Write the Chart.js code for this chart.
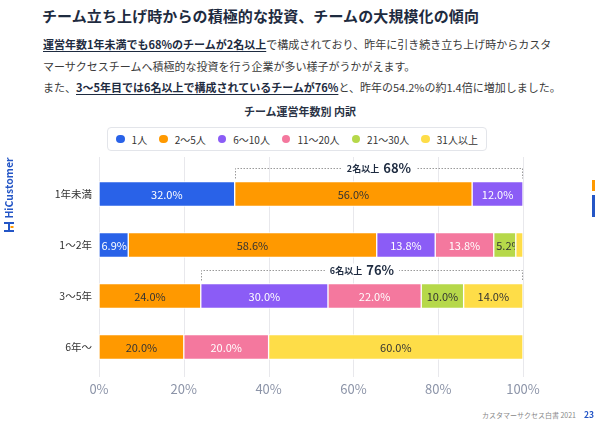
<!DOCTYPE html>
<html lang="ja">
<head>
<meta charset="utf-8">
<script src="https://cdn.jsdelivr.net/npm/chart.js@4"></script>
<style>
  html,body{margin:0;padding:0;background:#fff;}
  body{width:600px;height:423px;position:relative;overflow:hidden;font-family:"Noto Sans CJK JP","Noto Sans",sans-serif;}
  #title{position:absolute;left:42px;top:5px;font-size:15px;font-weight:bold;color:#1e2b40;white-space:nowrap;letter-spacing:0.1px;}
  #body{position:absolute;left:43px;top:34px;font-size:11px;line-height:21.5px;color:#3a3a3a;white-space:nowrap;}
  #body b{color:#1e2b40;text-decoration:underline;text-underline-offset:2px;}
  #ctitle{position:absolute;left:0;width:600px;top:103px;text-align:center;font-size:11px;font-weight:bold;color:#2a3345;}
  #legend{position:absolute;left:107px;top:127px;width:378px;height:22px;border:1px solid #e3e5ea;border-radius:4px;display:flex;align-items:center;justify-content:center;gap:12px;font-size:10px;color:#333;white-space:nowrap;}
  #legend .it{display:flex;align-items:center;flex-shrink:0;white-space:nowrap;}
  #legend .dot{width:8.5px;height:8.5px;border-radius:50%;margin-right:7px;flex-shrink:0;}
  #wrap{position:absolute;left:0;top:150px;width:600px;height:260px;}
  #logo{position:absolute;left:-26px;top:181px;transform:rotate(-90deg);font-size:10.5px;font-weight:bold;color:#2456c6;width:70px;height:14px;line-height:14px;text-align:center;white-space:nowrap;}
  #icon{position:absolute;left:4px;top:222px;width:10px;height:10px;}
  #footer{position:absolute;right:24px;top:410px;font-size:7px;color:#888;white-space:nowrap;}
  #page{position:absolute;left:584px;top:408px;font-size:8.5px;font-weight:bold;color:#2456c6;}
  .mk{position:absolute;left:592px;width:2.5px;}
</style>
</head>
<body>
<div id="title">チーム立ち上げ時からの積極的な投資、チームの大規模化の傾向</div>
<div id="body"><b>運営年数1年未満でも68%のチームが2名以上</b>で構成されており、昨年に引き続き立ち上げ時からカスタ<br>マーサクセスチームへ積極的な投資を行う企業が多い様子がうかがえます。<br>また、<b>3〜5年目では6名以上で構成されているチームが76%</b>と、昨年の54.2%の約1.4倍に増加しました。</div>
<div id="ctitle">チーム運営年数別 内訳</div>
<div id="legend"></div>
<div id="wrap"><canvas id="c" width="600" height="260"></canvas></div>
<div id="logo">HiCustomer</div>
<svg id="icon" viewBox="0 0 10 10"><rect x="0" y="0" width="10" height="2" fill="#2456c6"/><rect x="0" y="8" width="10" height="2" fill="#2456c6"/><rect x="4" y="2" width="2" height="6" fill="#2456c6"/><rect x="6.5" y="4" width="3" height="2" fill="#ff9900"/></svg>
<div class="mk" style="top:180px;height:11px;background:#ff9900"></div>
<div class="mk" style="top:195px;height:22px;background:#2456c6"></div>
<div id="footer">カスタマーサクセス白書 2021</div>
<div id="page">23</div>
<script>
// ---- data ----
const categories = ['1年未満', '1〜2年', '3〜5年', '6年〜'];
const seriesNames = ['1人', '2〜5人', '6〜10人', '11〜20人', '21〜30人', '31人以上'];
const s1 = [32.0, 6.9, 0, 0];
const s2to5 = [56.0, 58.6, 24.0, 20.0];
const s6to10 = [12.0, 13.8, 30.0, 0];
const s11to20 = [0, 13.8, 22.0, 20.0];
const s21to30 = [0, 5.2, 10.0, 0];
const s31plus = [0, 1.7, 14.0, 60.0];
const xTicks = [0, 20, 40, 60, 80, 100];
// bracket annotations: row index, first series included, label
const noteRows = [0, 2];
const noteFromSeries = [1, 2];
const noteLabels = ['2名以上', '6名以上'];

const colors = ['#2962e8', '#ff9900', '#8b5cf6', '#f4789e', '#b6d84a', '#fedd48'];
const labelColors = ['#fff', '#333', '#fff', '#fff', '#333', '#333'];
const allSeries = [s1, s2to5, s6to10, s11to20, s21to30, s31plus];

// HTML legend from series arrays
const lg = document.getElementById('legend');
seriesNames.forEach((n, i) => {
  const it = document.createElement('div'); it.className = 'it';
  it.innerHTML = '<span class="dot" style="background:' + colors[i] + '"></span>' + n;
  lg.appendChild(it);
});

const FONT = '"Noto Sans CJK JP","Noto Sans",sans-serif';

const gridPlugin = {
  id: 'grid',
  beforeDatasetsDraw(chart) {
    const ctx = chart.ctx, x = chart.scales.x;
    ctx.save();
    ctx.strokeStyle = '#e8e8ec'; ctx.lineWidth = 1;
    xTicks.forEach(v => {
      const px = Math.round(x.getPixelForValue(v)) + 0.5;
      ctx.beginPath(); ctx.moveTo(px, 7); ctx.lineTo(px, 227); ctx.stroke();
    });
    ctx.restore();
  }
};

const labelPlugin = {
  id: 'vals',
  afterDatasetsDraw(chart) {
    const ctx = chart.ctx;
    ctx.save();
    ctx.font = '11px ' + FONT;
    ctx.textBaseline = 'middle';
    chart.data.datasets.forEach((ds, di) => {
      const meta = chart.getDatasetMeta(di);
      meta.data.forEach((el, i) => {
        const v = ds.data[i];
        if (!v) return;
        const l = Math.min(el.x, el.base), r = Math.max(el.x, el.base);
        if (r - l < 12) return;
        const txt = v.toFixed(1) + '%';
        const tw = ctx.measureText(txt).width;
        ctx.save();
        ctx.beginPath(); ctx.rect(l + 1, el.y - el.height / 2, r - l - 2, el.height); ctx.clip();
        ctx.fillStyle = labelColors[di];
        if (tw > r - l - 4) { ctx.textAlign = 'left'; ctx.fillText(txt, l + 2.5, el.y + 0.5); }
        else { ctx.textAlign = 'center'; ctx.fillText(txt, (l + r) / 2, el.y + 0.5); }
        ctx.restore();
      });
    });
    ctx.restore();
  }
};

const notePlugin = {
  id: 'notes',
  afterDatasetsDraw(chart) {
    const ctx = chart.ctx, x = chart.scales.x;
    ctx.save();
    noteRows.forEach((row, k) => {
      let start = 0;
      for (let s = 0; s < noteFromSeries[k]; s++) start += allSeries[s][row];
      let total = 0;
      for (let s = noteFromSeries[k]; s < allSeries.length; s++) total += allSeries[s][row];
      const el = chart.getDatasetMeta(0).data[row];
      const top = el.y - el.height / 2;
      const yL = Math.round(top - 14) + 0.5;
      const x0 = Math.round(x.getPixelForValue(start)) + 0.5;
      const x1 = Math.round(x.getPixelForValue(100)) - 0.5;
      ctx.strokeStyle = '#9a9a9a'; ctx.lineWidth = 1; ctx.setLineDash([1.5, 1.5]);
      ctx.beginPath();
      ctx.moveTo(x0, top - 3); ctx.lineTo(x0, yL); ctx.lineTo(x1, yL); ctx.lineTo(x1, top - 3);
      ctx.stroke();
      // label
      const t1 = noteLabels[k] + '  ';
      const t2 = Math.round(total) + '%';
      ctx.font = 'bold 9px ' + FONT; const w1 = ctx.measureText(t1).width;
      ctx.font = 'bold 13px ' + FONT; const w2 = ctx.measureText(t2).width;
      const cx = (x0 + x1) / 2, w = w1 + w2;
      ctx.setLineDash([]);
      ctx.fillStyle = '#fff';
      ctx.fillRect(cx - w / 2 - 5, yL - 7, w + 10, 14);
      ctx.fillStyle = '#1e2b40'; ctx.textBaseline = 'middle'; ctx.textAlign = 'left';
      ctx.font = 'bold 9px ' + FONT; ctx.fillText(t1, cx - w / 2, yL);
      ctx.font = 'bold 13px ' + FONT; ctx.fillText(t2, cx - w / 2 + w1, yL - 0.5);
    });
    ctx.restore();
  }
};

new Chart(document.getElementById('c'), {
  type: 'bar',
  data: {
    labels: categories,
    datasets: allSeries.map((d, i) => ({
      label: seriesNames[i], data: d, backgroundColor: colors[i],
      borderColor: '#ffffff', borderWidth: 1, borderSkipped: false,
      barThickness: 25
    }))
  },
  options: {
    indexAxis: 'y',
    responsive: false,
    animation: false,
    events: [],
    layout: { padding: { left: 40, right: 77, top: 18.5, bottom: 0 } },
    plugins: { legend: { display: false }, title: { display: false }, tooltip: { enabled: false } },
    scales: {
      x: {
        stacked: true, min: 0, max: 100,
        afterBuildTicks(s) { s.ticks = xTicks.map(v => ({ value: v })); },
        afterFit(s) { s.height = 37.5; },
        grid: { display: false, drawTicks: false },
        border: { display: false },
        ticks: { padding: 9, color: '#8c94a8', font: { size: 13, family: FONT }, callback: v => v + '%' }
      },
      y: {
        stacked: true,
        afterFit(s) { s.width = 59; },
        grid: { display: false, drawTicks: false },
        border: { display: false },
        ticks: { padding: 7, color: '#333', font: { size: 10.5, family: FONT } }
      }
    }
  },
  plugins: [gridPlugin, labelPlugin, notePlugin]
});
</script>
</body>
</html>
